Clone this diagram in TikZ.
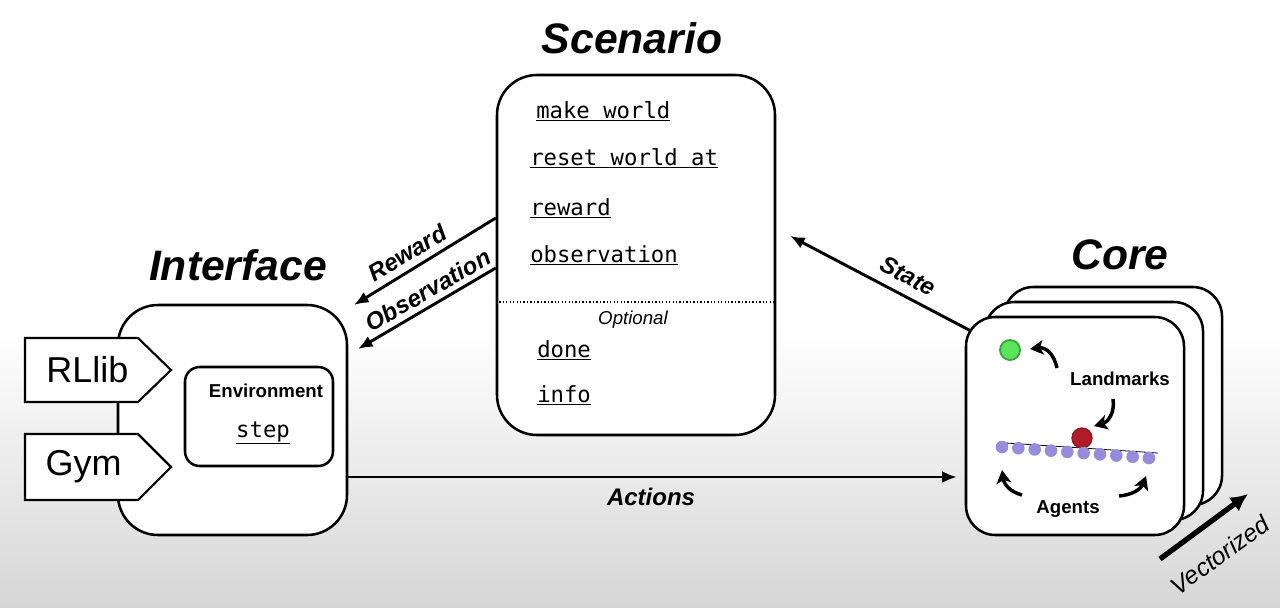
\documentclass[tikz,border=0pt]{standalone}
\usepackage{fontspec}
\setmainfont{Liberation Sans}
\setmonofont{DejaVu Sans Mono}
\usetikzlibrary{arrows.meta,calc}
\definecolor{lav}{RGB}{150,140,220}
\definecolor{grn}{RGB}{90,230,90}
\definecolor{rd}{RGB}{175,30,40}
\newcommand\ulx[1]{\underline{#1}}
\begin{document}
\begin{tikzpicture}[x=0.75pt,y=-0.75pt,
  box/.style={draw, line width=1.9pt, rounded corners=30pt, fill=white, inner sep=0pt},
  coreb/.style={draw, line width=1.9pt, rounded corners=22pt, fill=white, inner sep=0pt, minimum width=163.5pt, minimum height=163.5pt},
  title/.style={font=\fontsize{32}{36}\selectfont\bfseries\itshape},
  arr/.style={line width=2.2pt, -{Latex[length=11pt,width=9pt]}},
  lbl/.style={font=\fontsize{18}{20}\selectfont\bfseries\itshape},
  code/.style={font=\fontsize{16.7}{20}\selectfont\ttfamily, anchor=base west, inner sep=0pt},
  curv/.style={line width=2.6pt, -{Stealth[length=10pt,width=11pt,inset=2.5pt]}},
  tag/.style={draw, line width=1.6pt, fill=white},
  tagtxt/.style={font=\fontsize{27}{30}\selectfont, inner sep=0pt},
  small/.style={font=\fontsize{14}{16}\selectfont\bfseries},
]
\useasboundingbox (0,0) rectangle (1280,607);
\fill[white] (0,0) rectangle (1280,607);
\shade[top color=white, bottom color=black!16] (0,330) rectangle (1280,607);

% titles
\node[title] (tScen) at (632,38) {Scenario};
\node[title] (tIntf) at (238,265) {Interface};
\node[title] (tCore) at (1120,255) {Core};

% scenario box
\node[box, minimum width=208.5pt, minimum height=270pt] (scen) at (636,255) {};
\node[code] (mw) at (536,118) {\ulx{make world}};
\node[code] (rw) at (530,165) {\ulx{reset world at}};
\node[code] (rr) at (530,215) {\ulx{reward}};
\node[code] (ob) at (530,262) {\ulx{observation}};
\draw[line width=1pt, dash pattern=on 1pt off 1.6pt] (scen.west |- 0,302) -- (scen.east |- 0,302);
\node[font=\fontsize{14}{16}\selectfont\itshape] (opt) at (633,320) {Optional};
\node[code] (dn) at (537,357) {\ulx{done}};
\node[code] (inf) at (537,402) {\ulx{info}};

% interface box
\node[box, minimum width=171.75pt, minimum height=172.5pt] (intf) at (232.5,420) {};
\node[box, rounded corners=11pt, minimum width=111pt, minimum height=74.25pt] (env) at (259,416.5) {};
\node[small] (envt) at (266,391) {Environment};
\node[code, anchor=base] (stp) at (263,437) {\ulx{step}};

% tags
\draw[tag] (25,338) -- (138,338) -- (171,370) -- (138,402) -- (25,402) -- cycle;
\node[tagtxt] (rllib) at (87.5,370) {RLlib};
\draw[tag] (25,434) -- (138,434) -- (171,467) -- (138,500) -- (25,500) -- cycle;
\node[tagtxt] (gym) at (83.5,467) {Gym};

% core stack
\node[coreb] (core3) at (1113,396) {};
\node[coreb] (core2) at (1094,411) {};
\node[coreb] (core) at (1075,426) {};

\draw[line width=1.4pt, fill=grn, draw=grn!70!black] (1010,350) circle[radius=10];
\draw[line width=0.6pt] (1006,443) -- (1158,453);
\draw[line width=1pt, fill=rd, draw=rd!80!black] (1082,438) circle[radius=10];
\foreach \i in {0,...,9}{
  \fill[lav] ({1002+\i*16.33},{447+\i*1.22}) circle[radius=6.3];
}
\node[small] (lm) at (1120,379) {Landmarks};
\node[small] (ag) at (1068,509) {Agents};
\draw[curv] (1057,368) .. controls (1054,354) and (1046,347) .. (1030,349);
\draw[curv] (1113,399) .. controls (1115,413) and (1108,422) .. (1094,426);
\draw[curv] (1022,495) .. controls (1010,492) and (1004,484) .. (1002,470);
\draw[curv] (1119,496) .. controls (1132,495) and (1141,489) .. (1146,476);

% connectors
\coordinate (rwEnd) at (354,305);
\coordinate (obEnd) at (358,349);
\draw[arr] (scen.west |- 0,218) -- (rwEnd);
\draw[arr] (scen.west |- 0,268) -- (obEnd);
\node[lbl, rotate=31] (lrw) at (407,253) {Reward};
\node[lbl, rotate=30] (lob) at (428,290) {Observation};

\coordinate (stS) at (971,331);
\coordinate (stE) at (790,236);
\draw[arr] (stS) -- (stE);
\node[lbl, rotate=-27.5] (lst) at (908,276) {State};

\draw[arr, shorten >=6pt] (intf.east |- 0,477) -- (core.west |- 0,477);
\node[lbl] (lac) at (651,497) {Actions};

\coordinate (vecS) at (1160,559);
\coordinate (vecE) at (1248,494);
\draw[line width=4pt, -{Latex[length=13pt,width=13pt]}] (vecS) -- (vecE);
\node[font=\fontsize{18.5}{20}\selectfont\itshape, rotate=36] (lvec) at (1220,555) {Vectorized};
\end{tikzpicture}
\end{document}
